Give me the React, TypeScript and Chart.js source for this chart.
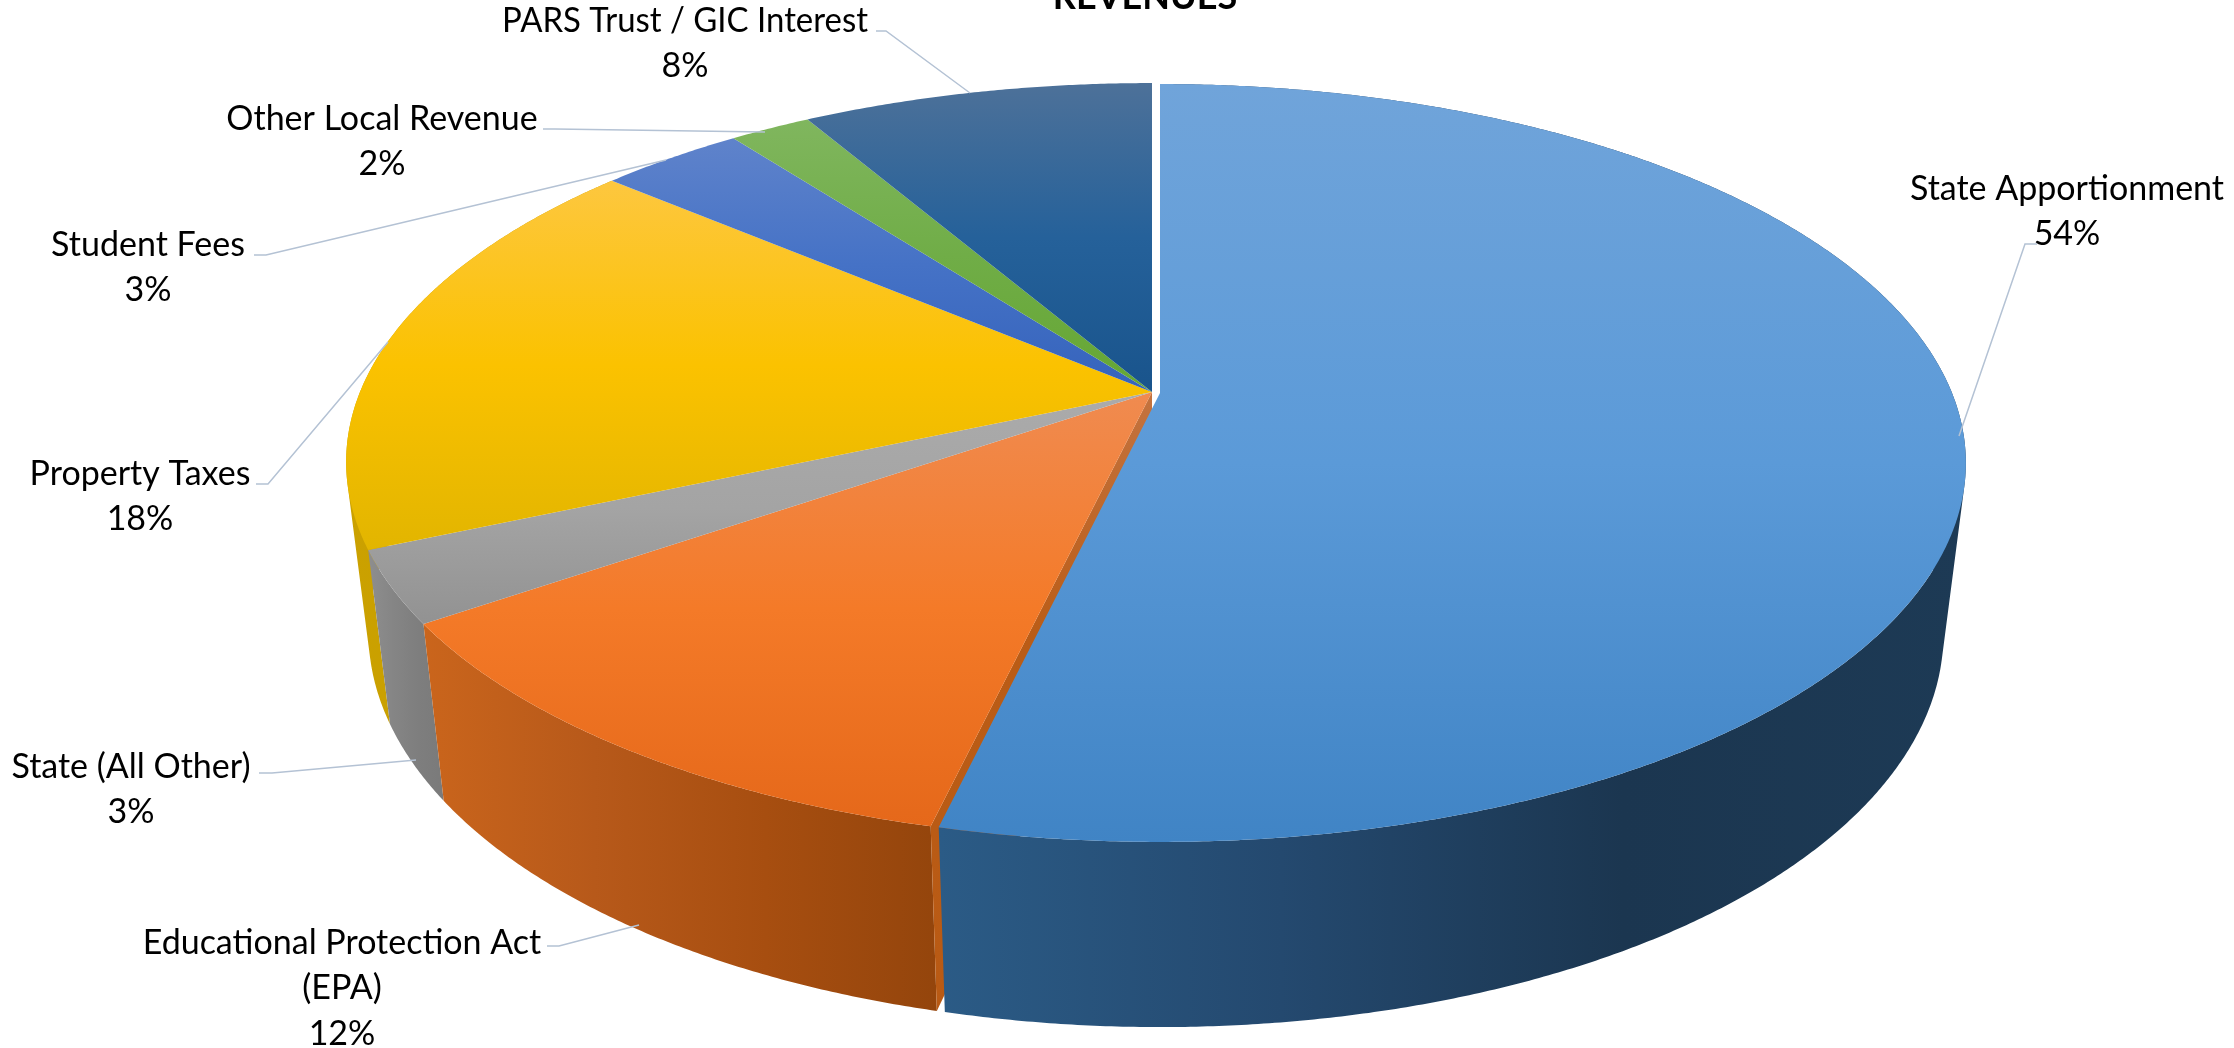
import React, { useEffect, useRef } from "react";
import { Chart, registerables } from "chart.js";

Chart.register(...registerables);

const categories = [
  "State Apportionment",
  "Educational Protection Act (EPA)",
  "State (All Other)",
  "Property Taxes",
  "Student Fees",
  "Other Local Revenue",
  "PARS Trust / GIC Interest",
];
const revenueShare = [53.6, 11.7, 3.05, 17.7, 3.45, 1.95, 8.4];
const chartTitle = "REVENUES";

// ---- styling and layout, separate from the data ----
const topStops = [
  ["#70a4da", "#5b9ad8", "#4084c5"],
  ["#f08b50", "#f47a28", "#e5681a"],
  ["#ababab", "#a4a4a4", "#929292"],
  ["#fdc73f", "#fbc200", "#e2b500"],
  ["#5f83cb", "#4572c6", "#3563bc"],
  ["#80b65e", "#70ad47", "#65a633"],
  ["#4d7199", "#25619a", "#19548c"],
];
const wallStops: (string[] | null)[] = [
  ["#2b5b86", "#24496f", "#1b3650", "#1d3a55"],
  ["#ca651c", "#b7591a", "#a74e10", "#94450c"],
  ["#8e8e8e", "#858585", "#7e7e7e", "#7a7a7a"],
  ["#cba100", "#c9a000", "#c69d00", "#c59c00"],
  null,
  null,
  null,
];
const explode = [[8, 1], [0, 0], [0, 0], [0, 0], [0, 0], [0, 0], [0, 0]];
const labelLayout = [
  { rows: ["State Apportionment"], x: 2067, y: 189, line: [[2037, 244], [2025, 244], [1959, 436]] },
  { rows: ["Educational Protection Act", "(EPA)"], x: 342, y: 943, line: [[547, 946], [559, 946], [639, 925]] },
  { rows: ["State (All Other)"], x: 131, y: 767, line: [[259, 773], [272, 773], [416, 760]] },
  { rows: ["Property Taxes"], x: 140, y: 474, line: [[256, 484], [268, 484], [388, 342]] },
  { rows: ["Student Fees"], x: 148, y: 245, line: [[254, 255], [266, 255], [666, 160]] },
  { rows: ["Other Local Revenue"], x: 382, y: 119, line: [[543, 129], [555, 129], [765, 132]] },
  { rows: ["PARS Trust / GIC Interest"], x: 685, y: 21, maxWidth: 366, line: [[876, 31], [886, 31], [970, 93]] },
];
const LINE_STEP = 45.5;
const FONT = "Lato, 'Open Sans', sans-serif";
const TEXT_SIZE = 34;

const CX = 1152;
const TILT = 0.1847;
const TOP_PLANE = { y: 392, a: 792, b: 366 };
const BOTTOM_PLANE = { y: 560, a: 770, b: 380 };

type Plane = { y: number; a: number; b: number };

function project(angle: number, plane: Plane, ox: number, oy: number) {
  const u = Math.cos(angle);
  const v = Math.sin(angle);
  const w = 1 - TILT * v;
  return [CX + ox + (plane.a * u) / w, plane.y + oy + (plane.b * v) / w];
}

function arcPoints(start: number, end: number, plane: Plane, ox: number, oy: number) {
  const n = Math.max(2, Math.ceil((end - start) / 0.006));
  const pts: number[][] = [];
  for (let i = 0; i <= n; i++) pts.push(project(start + ((end - start) * i) / n, plane, ox, oy));
  return pts;
}

// Adds one quad to the current path, always with the same winding, so the union has no seams.
function addQuad(ctx: CanvasRenderingContext2D, q: number[][]) {
  let area = 0;
  q.forEach((p, i) => {
    const n = q[(i + 1) % 4];
    area += p[0] * n[1] - n[0] * p[1];
  });
  const pts = area >= 0 ? q : [...q].reverse();
  ctx.moveTo(pts[0][0], pts[0][1]);
  for (let i = 1; i < 4; i++) ctx.lineTo(pts[i][0], pts[i][1]);
  ctx.closePath();
}

const pie3d = {
  id: "pie3d",
  beforeDatasetsDraw(chart: any) {
    const { ctx } = chart;
    const arcs = chart.getDatasetMeta(0).data;
    ctx.save();

    // side walls, back to front so the exploded slice sits on top
    for (let i = arcs.length - 1; i >= 0; i--) {
      const stops = wallStops[i];
      if (!stops) continue;
      const { startAngle, endAngle } = arcs[i];
      const [ox, oy] = explode[i];
      const top = arcPoints(startAngle, endAngle, TOP_PLANE, ox, oy);
      const bot = arcPoints(startAngle, endAngle, BOTTOM_PLANE, ox, oy);
      // only the part of the wall that faces the viewer affects the shading range
      const xs = [...top, ...bot].filter((p) => p[1] > TOP_PLANE.y).map((p) => p[0]);
      const g = ctx.createLinearGradient(Math.min(...xs), 0, Math.max(...xs), 0);
      stops.forEach((c, k) => g.addColorStop(k / (stops.length - 1), c));
      ctx.fillStyle = g;
      ctx.beginPath();
      for (let k = 0; k < top.length - 1; k++) addQuad(ctx, [top[k], top[k + 1], bot[k + 1], bot[k]]);
      ctx.fill("nonzero");
      if (i === 1) {
        // the radial cut face left visible by the exploded neighbour
        const a = project(startAngle, TOP_PLANE, 0, 0);
        const b = project(startAngle, BOTTOM_PLANE, 0, 0);
        const cut = ctx.createLinearGradient(0, TOP_PLANE.y, 0, b[1]);
        cut.addColorStop(0, "#c4733f");
        cut.addColorStop(0.4, "#ba5c16");
        cut.addColorStop(1, "#b95a14");
        ctx.fillStyle = cut;
        ctx.beginPath();
        ctx.moveTo(CX, TOP_PLANE.y);
        ctx.lineTo(a[0], a[1]);
        ctx.lineTo(b[0], b[1]);
        ctx.lineTo(CX, BOTTOM_PLANE.y);
        ctx.closePath();
        ctx.fill();
      }
    }

    // top faces
    arcs.forEach((arc: any, i: number) => {
      const [ox, oy] = explode[i];
      const pts = arcPoints(arc.startAngle, arc.endAngle, TOP_PLANE, ox, oy);
      const ys = [...pts.map((p) => p[1]), TOP_PLANE.y + oy];
      const g = ctx.createLinearGradient(0, Math.min(...ys), 0, Math.max(...ys));
      topStops[i].forEach((c, k) => g.addColorStop(k / 2, c));
      ctx.fillStyle = g;
      ctx.beginPath();
      ctx.moveTo(CX + ox, TOP_PLANE.y + oy);
      pts.forEach((p) => ctx.lineTo(p[0], p[1]));
      ctx.closePath();
      ctx.fill();
    });

    // leader lines
    ctx.strokeStyle = "#b4c2d4";
    ctx.lineWidth = 1.5;
    labelLayout.forEach((l) => {
      ctx.beginPath();
      l.line.forEach((p, k) => (k ? ctx.lineTo(p[0], p[1]) : ctx.moveTo(p[0], p[1])));
      ctx.stroke();
    });

    // labels
    const total = revenueShare.reduce((a, b) => a + b, 0);
    ctx.fillStyle = "#000000";
    ctx.textAlign = "center";
    ctx.textBaseline = "middle";
    ctx.font = `${TEXT_SIZE}px ${FONT}`;
    labelLayout.forEach((l, i) => {
      const rows = [...l.rows, `${Math.round((revenueShare[i] / total) * 100)}%`];
      rows.forEach((r, k) => ctx.fillText(r, l.x, l.y + k * LINE_STEP, l.maxWidth));
    });

    ctx.font = `bold 36px ${FONT}`;
    ctx.fillText(chartTitle, 1145, -3);
    ctx.restore();
    return false;
  },
};

export default function App() {
  const ref = useRef<HTMLCanvasElement>(null);
  useEffect(() => {
    const chart = new Chart(ref.current!, {
      type: "pie",
      data: {
        labels: categories,
        datasets: [{ data: revenueShare, borderWidth: 0 }],
      },
      options: {
        responsive: false,
        animation: false,
        plugins: { legend: { display: false }, tooltip: { enabled: false }, title: { display: false } },
      },
      plugins: [pie3d as any],
    });
    return () => chart.destroy();
  }, []);
  return (
    <div style={{ position: "fixed", left: 0, top: 0, width: 2234, height: 1048, background: "#fff" }}>
      <canvas ref={ref} width={2234} height={1048} style={{ display: "block" }} />
    </div>
  );
}
